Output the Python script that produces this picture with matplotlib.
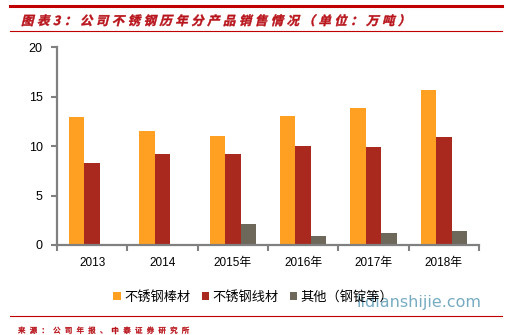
import numpy as np
import matplotlib
matplotlib.use("Agg")
import matplotlib.pyplot as plt
from matplotlib.lines import Line2D
from matplotlib.textpath import TextPath
from matplotlib.patches import PathPatch
from matplotlib.font_manager import FontProperties
from matplotlib.transforms import Affine2D

plt.rcParams['font.family'] = ['Liberation Sans', 'Noto Sans CJK SC', 'DejaVu Sans']

# 公司不锈钢历年分产品销售情况（万吨）
years = ['2013', '2014', '2015年', '2016年', '2017年', '2018年']
bar_steel = [12.9, 11.5, 11.0, 13.1, 13.9, 15.7]
wire_steel = [8.3, 9.2, 9.2, 10.0, 9.9, 10.9]
others = [0.0, 0.0, 2.1, 0.95, 1.2, 1.4]
series_names = ['不锈钢棒材', '不锈钢线材', '其他（钢锭等）']
colors = ['#FFA023', '#A9291F', '#6E685B']

title = '图表3：公司不锈钢历年分产品销售情况（单位：万吨）'
source = '来源：公司年报、中泰证券研究所'

W, H = 507, 335
fig = plt.figure(figsize=(W / 100, H / 100), dpi=100)
ax = fig.add_axes([0.1124, 0.2687, 0.8324, 0.5901])

x = np.arange(len(years))
w = 0.22
for i, (vals, name, c) in enumerate(zip([bar_steel, wire_steel, others], series_names, colors)):
    ax.bar(x + (i - 1) * w, vals, width=w, color=c, label=name, edgecolor='none')

ax.set_xlim(-0.5, len(years) - 0.5)
ax.set_ylim(0, 20)
ax.set_yticks([0, 5, 10, 15, 20])
ax.set_xticks(x)
ax.set_xticklabels(years, fontsize=8.5)
ax.set_xticks(np.arange(len(years) + 1) - 0.5, minor=True)
ax.tick_params(axis='x', which='major', length=0, pad=9)
ax.tick_params(axis='x', which='minor', length=4, width=1.5, color='#808080')
ax.tick_params(axis='y', length=4.3, width=1.5, color='#808080', pad=6, labelsize=9)

for s in ['top', 'right']:
    ax.spines[s].set_visible(False)
for s in ['left', 'bottom']:
    ax.spines[s].set_color('#808080')
    ax.spines[s].set_linewidth(1.6)

fig.legend(loc='center', bbox_to_anchor=(0.5, 0.113), ncol=3, frameon=False,
           fontsize=9.5, handlelength=0.55, handleheight=0.55, handletextpad=0.3,
           columnspacing=0.8)


def spaced_text(s, x0, y0, size, advance, color, skew=0, weight='normal'):
    # 逐字绘制（像素坐标），可加斜体倾斜
    fp = FontProperties(family=['Noto Sans CJK SC', 'DejaVu Sans'], weight=weight)
    xpos = x0
    for ch in s:
        tp = TextPath((0, 0), ch, size=size, prop=fp)
        tr = Affine2D().skew_deg(skew, 0).translate(xpos, y0)
        fig.add_artist(PathPatch(tr.transform_path(tp), transform=None,
                                 facecolor=color, edgecolor=color, lw=0.3))
        step = advance if ord(ch) > 127 else advance * 0.7
        xpos += step


# 标题与分隔线
fig.add_artist(Line2D([10 / W, 502 / W], [1 - 6 / H] * 2, color='#C00000', lw=2.2))
fig.add_artist(Line2D([10 / W, 502 / W], [1 - 31 / H] * 2, color='#C00000', lw=0.8))
fig.add_artist(Line2D([10 / W, 502 / W], [1 - 316 / H] * 2, color='#C00000', lw=0.8))
spaced_text(title, 21, H - 25, 12.5, 15.9, '#B8141B', skew=14, weight='bold')
spaced_text(source, 18, H - 333, 7.5, 11.7, '#B8141B')
fig.text(482 / W, 1 - 303 / H, 'lidianshijie.com', fontsize=11.5, color='#5E9DB8',
         alpha=0.85, va='center', ha='right', family=['DejaVu Sans'])

fig.savefig('out.png', dpi=100)
